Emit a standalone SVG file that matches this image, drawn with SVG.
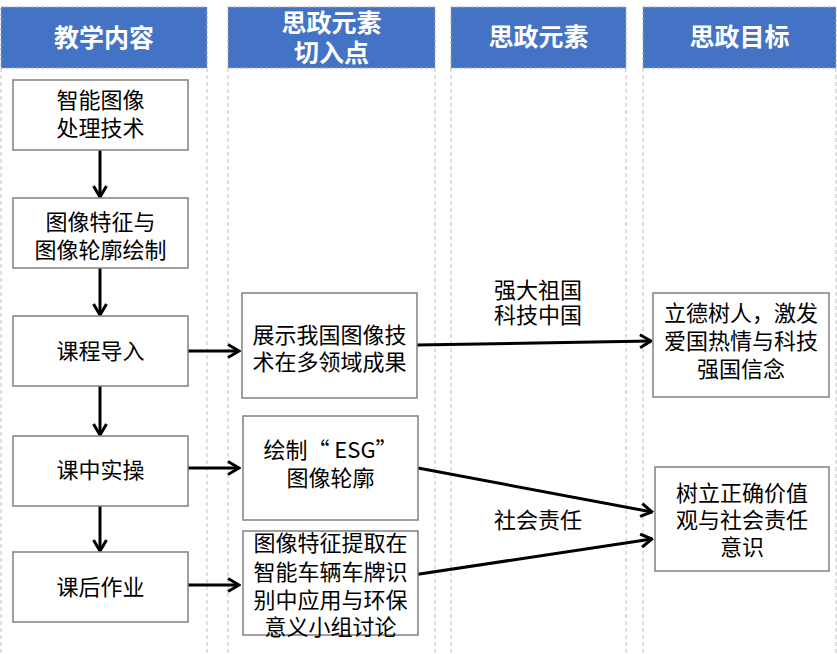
<svg xmlns="http://www.w3.org/2000/svg" width="837" height="654" viewBox="0 0 837 654">
<defs>
<style>
.hdr{fill:#4472C4;stroke:#A6A6A6;stroke-width:1;stroke-dasharray:3 2}
.lane{stroke:#C0C0C0;stroke-width:1;stroke-dasharray:4 3;fill:none}
.node{fill:#FFFFFF;stroke:#808080;stroke-width:1.5}
.ht{font-family:"Noto Sans CJK SC","Liberation Sans",sans-serif;font-size:25px;font-weight:bold;fill:#FFFFFF;text-anchor:middle}
.t{font-family:"Noto Sans CJK SC","Liberation Sans",sans-serif;font-size:22px;fill:#000000;text-anchor:middle}
.c{stroke:#000000;stroke-width:3;fill:none;marker-end:url(#ah)}
</style>
<marker id="ah" markerUnits="userSpaceOnUse" viewBox="0 0 14 16" refX="12.5" refY="8" markerWidth="14" markerHeight="16" orient="auto">
<path d="M1.5,1.5 L12.5,8 L1.5,14.5" fill="none" stroke="#000000" stroke-width="3"/>
</marker>
</defs>
<rect width="837" height="654" fill="#FFFFFF"/>
<g id="lanes">
<line class="lane" x1="1" y1="68" x2="1" y2="654"/>
<line class="lane" x1="207" y1="68" x2="207" y2="654"/>
<line class="lane" x1="228" y1="68" x2="228" y2="654"/>
<line class="lane" x1="435" y1="68" x2="435" y2="654"/>
<line class="lane" x1="451" y1="68" x2="451" y2="654"/>
<line class="lane" x1="626" y1="68" x2="626" y2="654"/>
<line class="lane" x1="643" y1="68" x2="643" y2="654"/>
<line class="lane" x1="836" y1="68" x2="836" y2="654"/>
</g>
<g id="header1"><rect class="hdr" x="1" y="7" width="206" height="61"/><text class="ht" x="104" y="47">教学内容</text></g>
<g id="header2"><rect class="hdr" x="228" y="7" width="207" height="61"/><text class="ht" x="331.5" y="32">思政元素</text><text class="ht" x="331.5" y="62">切入点</text></g>
<g id="header3"><rect class="hdr" x="451" y="7" width="175" height="61"/><text class="ht" x="538.5" y="46">思政元素</text></g>
<g id="header4"><rect class="hdr" x="643" y="7" width="193" height="61"/><text class="ht" x="739.5" y="46">思政目标</text></g>
<g id="connectors">
<line class="c" x1="100" y1="150" x2="100" y2="197"/>
<line class="c" x1="100" y1="268" x2="100" y2="315"/>
<line class="c" x1="100" y1="386" x2="100" y2="435"/>
<line class="c" x1="100" y1="506" x2="100" y2="551"/>
<line class="c" x1="188" y1="351" x2="239" y2="351"/>
<line class="c" x1="188" y1="468" x2="239" y2="468"/>
<line class="c" x1="188" y1="585" x2="239" y2="585"/>
<line class="c" x1="417" y1="345" x2="651" y2="341"/>
<line class="c" x1="418" y1="468" x2="652" y2="512"/>
<line class="c" x1="413" y1="575" x2="652" y2="539"/>
</g>
<g id="label1"><text class="t" x="538" y="298">强大祖国</text><text class="t" x="538" y="323">科技中国</text></g>
<g id="label2"><text class="t" x="538" y="528">社会责任</text></g>
<g id="n1"><rect class="node" x="13" y="80" width="175" height="70"/><text class="t" x="100.5" y="108">智能图像</text><text class="t" x="100.5" y="136">处理技术</text></g>
<g id="n2"><rect class="node" x="13" y="198" width="175" height="70"/><text class="t" x="100.5" y="230">图像特征与</text><text class="t" x="100.5" y="258">图像轮廓绘制</text></g>
<g id="n3"><rect class="node" x="13" y="316" width="175" height="70"/><text class="t" x="100.5" y="359">课程导入</text></g>
<g id="n4"><rect class="node" x="13" y="436" width="175" height="70"/><text class="t" x="100.5" y="478">课中实操</text></g>
<g id="n5"><rect class="node" x="13" y="552" width="175" height="70"/><text class="t" x="100.5" y="595">课后作业</text></g>
<g id="m1"><rect class="node" x="242" y="293" width="175" height="105"/><text class="t" x="329.5" y="343">展示我国图像技</text><text class="t" x="329.5" y="370">术在多领域成果</text></g>
<g id="m2"><rect class="node" x="243" y="416" width="175" height="104"/><text class="t" x="330.5" y="458">绘制“ ESG”</text><text class="t" x="330.5" y="486">图像轮廓</text></g>
<g id="m3"><rect class="node" x="243" y="531" width="175" height="104"/><text class="t" x="330.5" y="551">图像特征提取在</text><text class="t" x="330.5" y="580">智能车辆车牌识</text><text class="t" x="330.5" y="608">别中应用与环保</text><text class="t" x="330.5" y="635">意义小组讨论</text></g>
<g id="g1"><rect class="node" x="653" y="293" width="176" height="104"/><text class="t" x="741" y="321">立德树人，激发</text><text class="t" x="741" y="349">爱国热情与科技</text><text class="t" x="741" y="377">强国信念</text></g>
<g id="g2"><rect class="node" x="655" y="467" width="174" height="104"/><text class="t" x="742" y="501">树立正确价值</text><text class="t" x="742" y="528">观与社会责任</text><text class="t" x="742" y="555">意识</text></g>
</svg>
